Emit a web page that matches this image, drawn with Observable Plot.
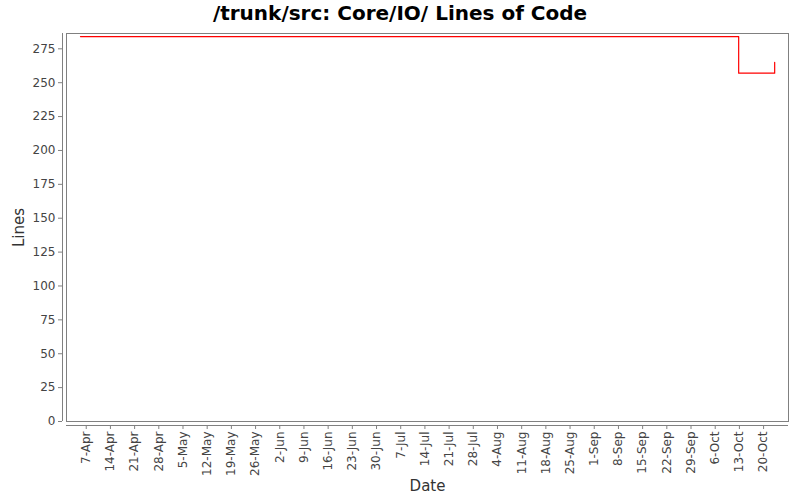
<!DOCTYPE html>
<html><head><meta charset="utf-8">
<script src="https://cdn.jsdelivr.net/npm/d3@7"></script>
<script src="https://cdn.jsdelivr.net/npm/@observablehq/plot@0.6"></script>
<style>
body{margin:0;background:#fff;font-family:"DejaVu Sans",sans-serif}
#title{height:26px;line-height:26px;text-align:center;font-weight:bold;font-size:20px;color:#000}
</style></head><body>
<div id="title">/trunk/src: Core/IO/ Lines of Code</div>
<div id="chart"></div>
<script>
const dates = ["2003-04-05T08:00Z", "2003-10-12T19:00Z", "2003-10-23T05:00Z"];
const lineCounts = [284, 257, 265];
const xTickDates = ["2003-04-07","2003-04-14","2003-04-21","2003-04-28","2003-05-05","2003-05-12","2003-05-19","2003-05-26","2003-06-02","2003-06-09","2003-06-16","2003-06-23","2003-06-30","2003-07-07","2003-07-14","2003-07-21","2003-07-28","2003-08-04","2003-08-11","2003-08-18","2003-08-25","2003-09-01","2003-09-08","2003-09-15","2003-09-22","2003-09-29","2003-10-06","2003-10-13","2003-10-20"];
const yTicks = [0,25,50,75,100,125,150,175,200,225,250,275];
const xDomain = ["2003-04-01T07:00Z", "2003-10-27T05:00Z"];
const yDomain = [0, 286.3];

const data = dates.map((d, i) => ({date: new Date(d), lines: lineCounts[i]}));
const xTicks = xTickDates.map(d => new Date(d + "T00:00Z"));
const fmt = d3.utcFormat("%-d-%b");

const chart = Plot.plot({
  width: 800,
  height: 474,
  marginTop: 7,
  marginBottom: 79,
  marginLeft: 66,
  marginRight: 12,
  style: {fontFamily: "DejaVu Sans, sans-serif", fontSize: "12px", color: "#444", background: "white"},
  x: {type: "utc", domain: xDomain.map(d => new Date(d))},
  y: {domain: yDomain},
  marks: [
    Plot.frame({stroke: "#808080"}),
    Plot.ruleX([new Date(xDomain[0])], {dx: -4, stroke: "#808080"}),
    Plot.ruleY([0], {dy: 4, stroke: "#808080"}),
    Plot.axisY({ticks: yTicks, tickSize: 4, tickPadding: 3, dx: -4, stroke: "#808080", fill: "#444", label: null}),
    Plot.axisX({ticks: xTicks, tickFormat: fmt, tickRotate: -90, tickSize: 4, tickPadding: 2, dy: 4, stroke: "#808080", fill: "#444", label: null}),
    Plot.text(["Lines"], {text: d => d, frameAnchor: "left", textAnchor: "middle", lineAnchor: "middle", dx: -47, rotate: -90, fontSize: 15, fill: "#333"}),
    Plot.text(["Date"], {text: d => d, frameAnchor: "bottom", textAnchor: "middle", lineAnchor: "middle", dy: 65, fontSize: 15, fill: "#333"}),
    Plot.line(data, {x: "date", y: "lines", curve: "step-after", stroke: "red", strokeWidth: 1.2})
  ]
});
document.getElementById("chart").appendChild(chart);
</script>
</body></html>
